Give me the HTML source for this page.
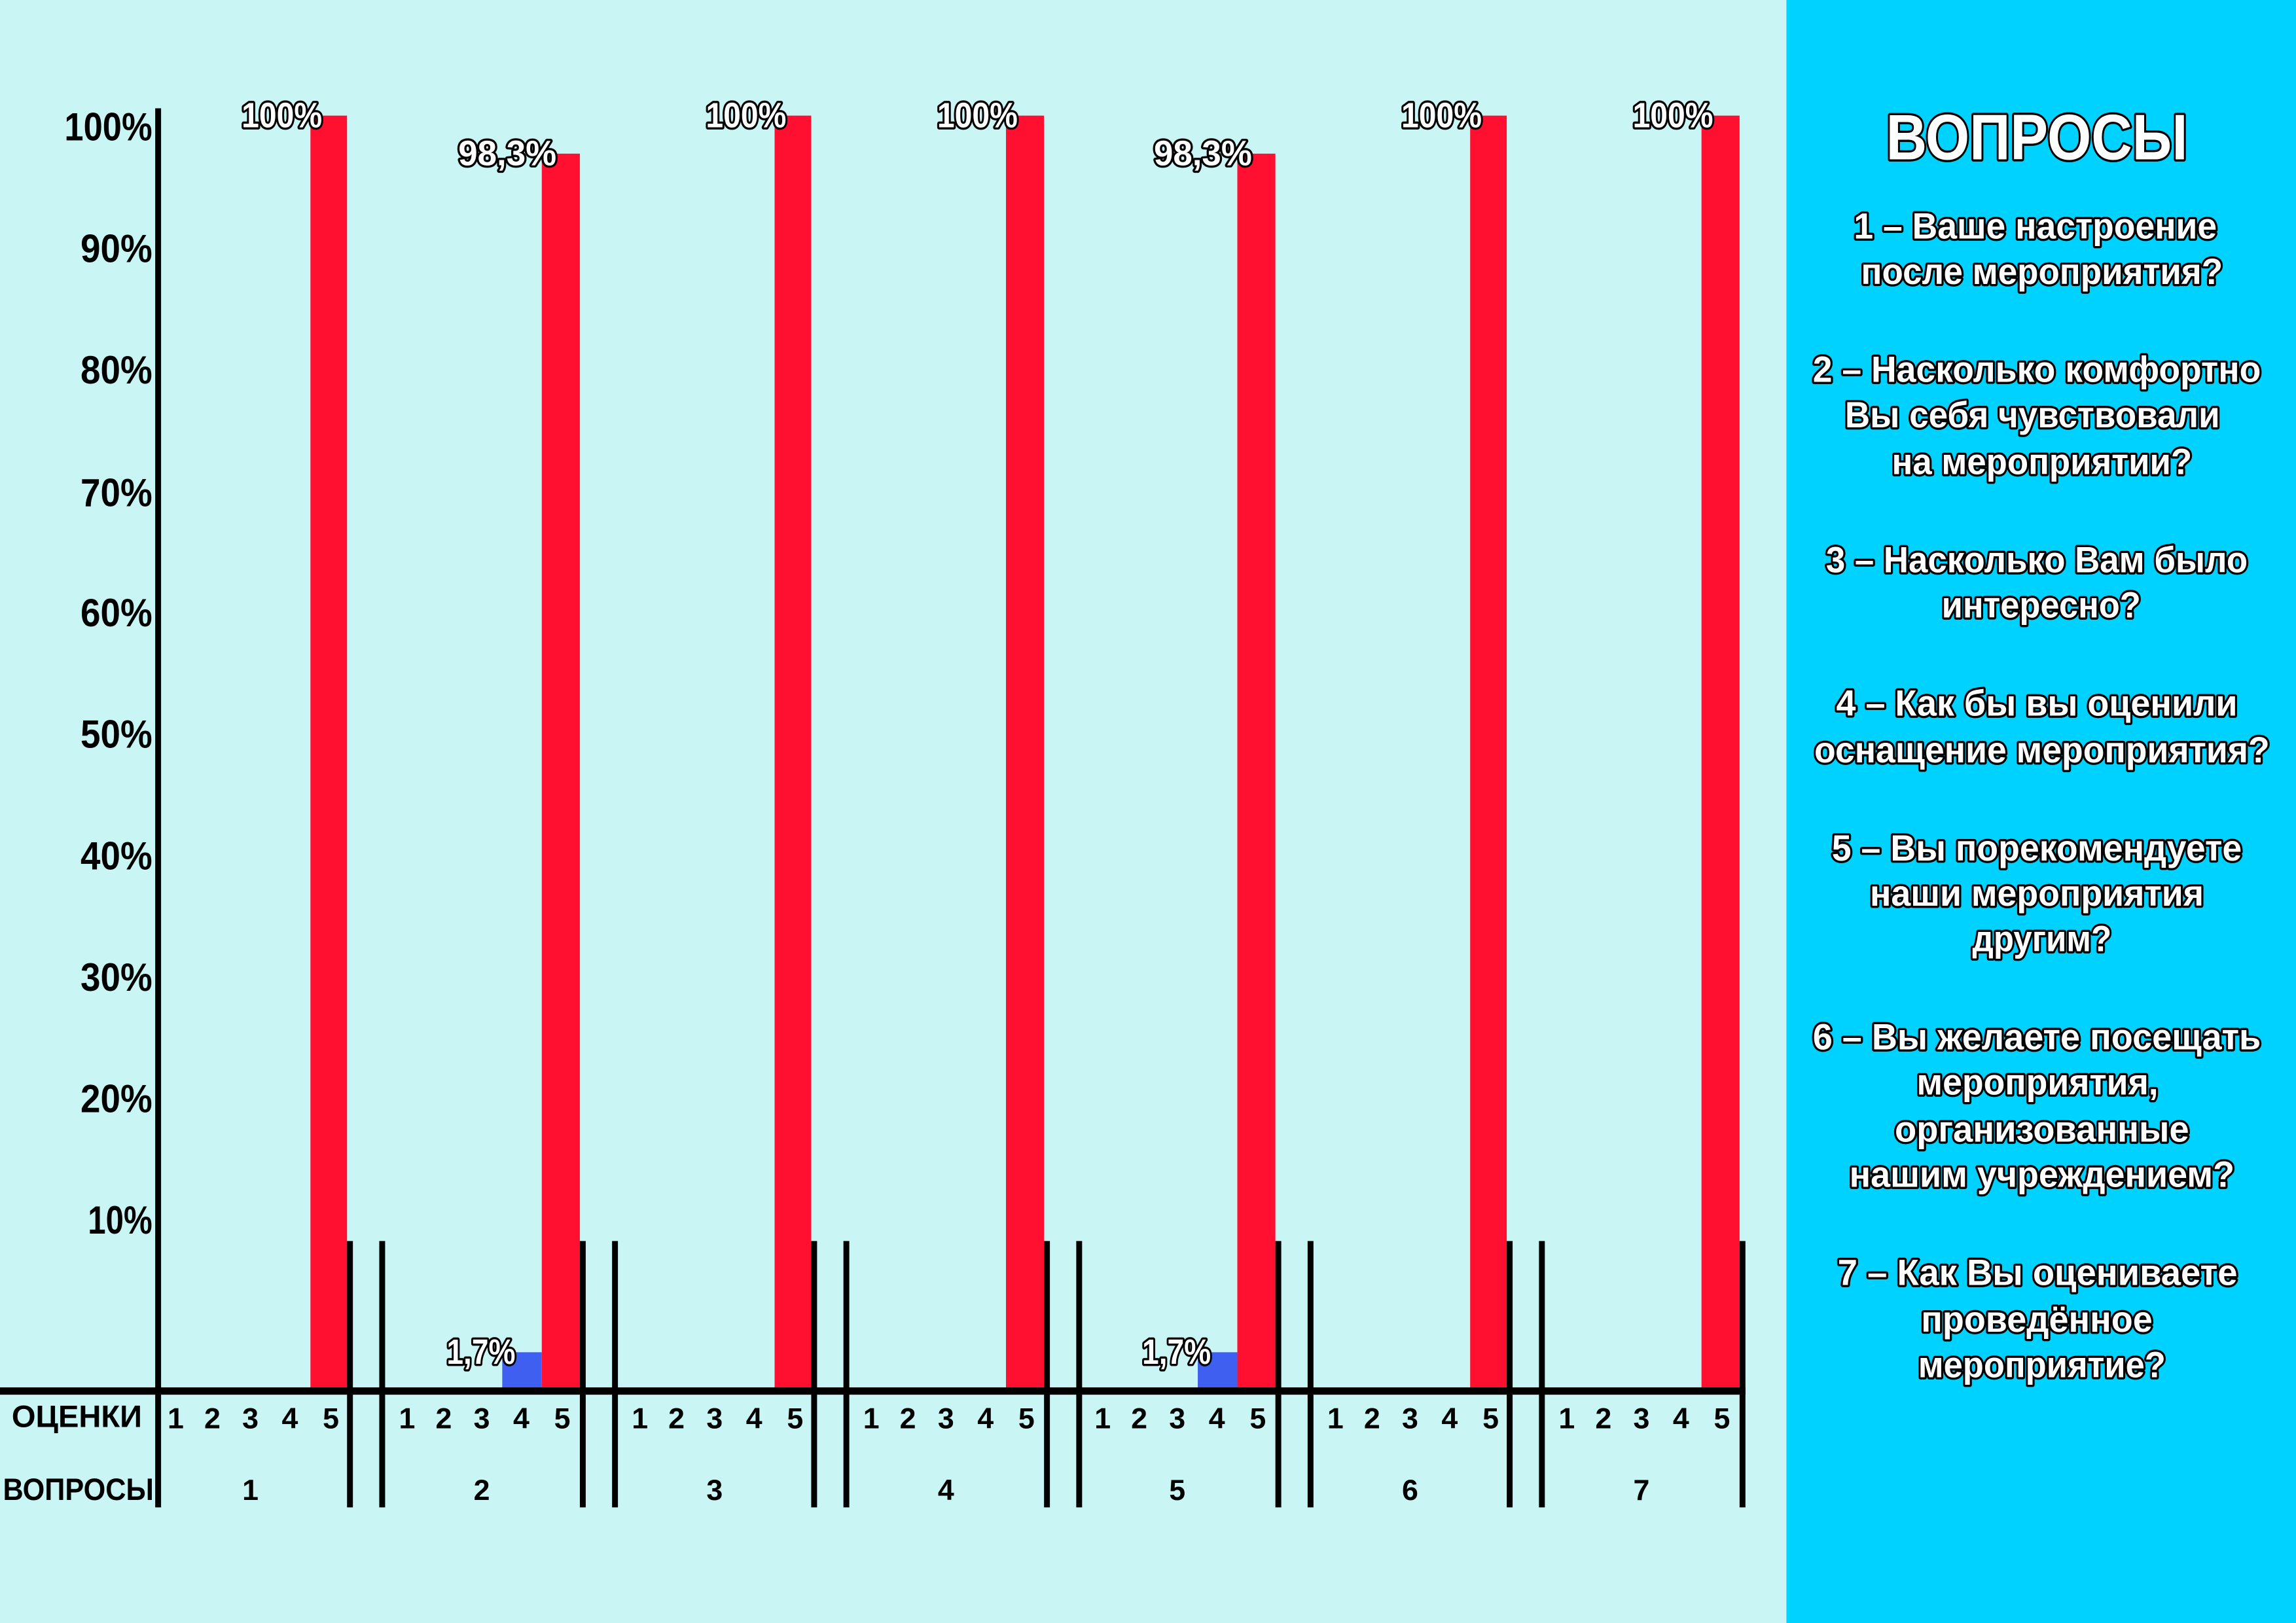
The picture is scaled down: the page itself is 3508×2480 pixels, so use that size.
<!DOCTYPE html>
<html><head><meta charset="utf-8"><style>
html,body{margin:0;padding:0;background:#c9f5f5}
svg{display:block}
text{font-family:"Liberation Sans Narrow","Liberation Sans","DejaVu Sans Condensed",sans-serif;font-weight:bold}
.o{fill:#fff;stroke:#000;stroke-width:3;paint-order:stroke;stroke-linejoin:round}
.b{fill:#000}
</style></head><body>
<svg width="3508" height="2480" viewBox="0 0 1568 1109" preserveAspectRatio="none" xmlns="http://www.w3.org/2000/svg">
<rect x="0" y="0" width="1568" height="1109" fill="#c9f5f5"/>
<rect x="1220" y="0" width="348" height="1109" fill="#00d2ff"/>

<g fill="#ff1030">
<rect x="212" y="79" width="25" height="871"/>
<rect x="370" y="105" width="26" height="845"/>
<rect x="529" y="79" width="25" height="871"/>
<rect x="687" y="79" width="26" height="871"/>
<rect x="845" y="105" width="26" height="845"/>
<rect x="1004" y="79" width="25" height="871"/>
<rect x="1162" y="79" width="26" height="871"/>
</g>
<rect x="343" y="924" width="27" height="26" fill="#3f5ff0"/>
<rect x="818" y="924" width="27" height="26" fill="#3f5ff0"/>

<rect x="106" y="74" width="4" height="956" fill="#000"/>
<rect x="0" y="948" width="1192" height="5" fill="#000"/>
<g fill="#000">
<rect x="237" y="848" width="4" height="182"/><rect x="259" y="848" width="4" height="182"/>
<rect x="396" y="848" width="4" height="182"/><rect x="418" y="848" width="4" height="182"/>
<rect x="554" y="848" width="4" height="182"/><rect x="576" y="848" width="4" height="182"/>
<rect x="713" y="848" width="4" height="182"/><rect x="735" y="848" width="4" height="182"/>
<rect x="871" y="848" width="4" height="182"/><rect x="893" y="848" width="4" height="182"/>
<rect x="1029" y="848" width="4" height="182"/><rect x="1051" y="848" width="4" height="182"/>
<rect x="1188" y="848" width="4" height="182"/>
</g>

<g class="b" font-size="27">
<text x="44" y="96" textLength="60" lengthAdjust="spacingAndGlyphs">100%</text>
<text x="55" y="179" textLength="49" lengthAdjust="spacingAndGlyphs">90%</text>
<text x="55" y="262" textLength="49" lengthAdjust="spacingAndGlyphs">80%</text>
<text x="55" y="346" textLength="49" lengthAdjust="spacingAndGlyphs">70%</text>
<text x="55" y="428" textLength="49" lengthAdjust="spacingAndGlyphs">60%</text>
<text x="55" y="511" textLength="49" lengthAdjust="spacingAndGlyphs">50%</text>
<text x="55" y="594" textLength="49" lengthAdjust="spacingAndGlyphs">40%</text>
<text x="55" y="677" textLength="49" lengthAdjust="spacingAndGlyphs">30%</text>
<text x="55" y="760" textLength="49" lengthAdjust="spacingAndGlyphs">20%</text>
<text x="60" y="843" textLength="44" lengthAdjust="spacingAndGlyphs">10%</text>
</g>

<g class="o" font-size="24">
<text x="165" y="87" textLength="55" lengthAdjust="spacingAndGlyphs">100%</text>
<text x="313" y="113" textLength="67" lengthAdjust="spacingAndGlyphs">98,3%</text>
<text x="305" y="932" textLength="47" lengthAdjust="spacingAndGlyphs">1,7%</text>
<text x="482" y="87" textLength="55" lengthAdjust="spacingAndGlyphs">100%</text>
<text x="640" y="87" textLength="55" lengthAdjust="spacingAndGlyphs">100%</text>
<text x="788" y="113" textLength="67" lengthAdjust="spacingAndGlyphs">98,3%</text>
<text x="780" y="932" textLength="47" lengthAdjust="spacingAndGlyphs">1,7%</text>
<text x="957" y="87" textLength="55" lengthAdjust="spacingAndGlyphs">100%</text>
<text x="1115" y="87" textLength="55" lengthAdjust="spacingAndGlyphs">100%</text>
</g>

<g class="b" font-size="21">
<text x="8" y="975" textLength="89" lengthAdjust="spacingAndGlyphs">ОЦЕНКИ</text>
<text x="2" y="1025" textLength="103" lengthAdjust="spacingAndGlyphs">ВОПРОСЫ</text>
</g>
<g class="b" font-size="20" text-anchor="middle">
<text x="120" y="976">1</text><text x="145" y="976">2</text><text x="171" y="976">3</text><text x="198" y="976">4</text><text x="226" y="976">5</text><text x="171" y="1025">1</text>
<text x="278" y="976">1</text><text x="303" y="976">2</text><text x="329" y="976">3</text><text x="356" y="976">4</text><text x="384" y="976">5</text><text x="329" y="1025">2</text>
<text x="437" y="976">1</text><text x="462" y="976">2</text><text x="488" y="976">3</text><text x="515" y="976">4</text><text x="543" y="976">5</text><text x="488" y="1025">3</text>
<text x="595" y="976">1</text><text x="620" y="976">2</text><text x="646" y="976">3</text><text x="673" y="976">4</text><text x="701" y="976">5</text><text x="646" y="1025">4</text>
<text x="753" y="976">1</text><text x="778" y="976">2</text><text x="804" y="976">3</text><text x="831" y="976">4</text><text x="859" y="976">5</text><text x="804" y="1025">5</text>
<text x="912" y="976">1</text><text x="937" y="976">2</text><text x="963" y="976">3</text><text x="990" y="976">4</text><text x="1018" y="976">5</text><text x="963" y="1025">6</text>
<text x="1070" y="976">1</text><text x="1095" y="976">2</text><text x="1121" y="976">3</text><text x="1148" y="976">4</text><text x="1176" y="976">5</text><text x="1121" y="1025">7</text>
</g>

<g class="o">
<text x="1288" y="109" font-size="44" textLength="206" lengthAdjust="spacingAndGlyphs">ВОПРОСЫ</text>
</g>
<g class="o" font-size="25">
<text x="1266" y="163" textLength="248" lengthAdjust="spacingAndGlyphs">1 – Ваше настроение</text>
<text x="1271" y="194" textLength="247" lengthAdjust="spacingAndGlyphs">после мероприятия?</text>
<text x="1238" y="261" textLength="306" lengthAdjust="spacingAndGlyphs">2 – Насколько комфортно</text>
<text x="1260" y="292" textLength="256" lengthAdjust="spacingAndGlyphs">Вы себя чувствовали</text>
<text x="1292" y="324" textLength="205" lengthAdjust="spacingAndGlyphs">на мероприятии?</text>
<text x="1247" y="391" textLength="288" lengthAdjust="spacingAndGlyphs">3 – Насколько Вам было</text>
<text x="1326" y="422" textLength="136" lengthAdjust="spacingAndGlyphs">интересно?</text>
<text x="1254" y="489" textLength="274" lengthAdjust="spacingAndGlyphs">4 – Как бы вы оценили</text>
<text x="1239" y="521" textLength="311" lengthAdjust="spacingAndGlyphs">оснащение мероприятия?</text>
<text x="1251" y="588" textLength="280" lengthAdjust="spacingAndGlyphs">5 – Вы порекомендуете</text>
<text x="1277" y="619" textLength="228" lengthAdjust="spacingAndGlyphs">наши мероприятия</text>
<text x="1347" y="650" textLength="95" lengthAdjust="spacingAndGlyphs">другим?</text>
<text x="1238" y="717" textLength="306" lengthAdjust="spacingAndGlyphs">6 – Вы желаете посещать</text>
<text x="1309" y="748" textLength="165" lengthAdjust="spacingAndGlyphs">мероприятия,</text>
<text x="1294" y="780" textLength="201" lengthAdjust="spacingAndGlyphs">организованные</text>
<text x="1263" y="811" textLength="263" lengthAdjust="spacingAndGlyphs">нашим учреждением?</text>
<text x="1255" y="878" textLength="273" lengthAdjust="spacingAndGlyphs">7 – Как Вы оцениваете</text>
<text x="1312" y="910" textLength="158" lengthAdjust="spacingAndGlyphs">проведённое</text>
<text x="1310" y="941" textLength="169" lengthAdjust="spacingAndGlyphs">мероприятие?</text>
</g>
</svg>
</body></html>
